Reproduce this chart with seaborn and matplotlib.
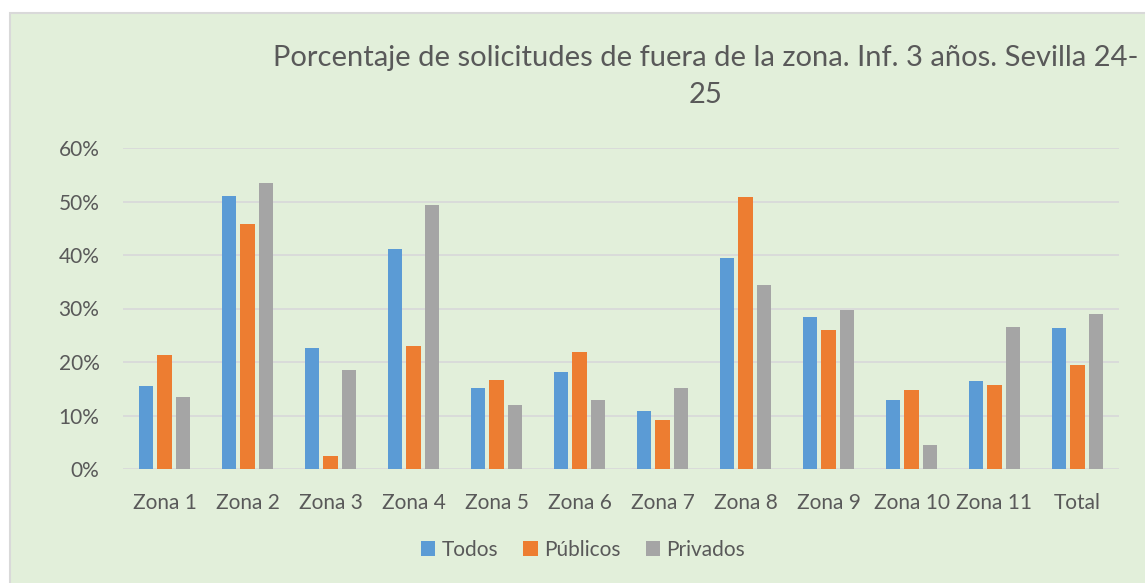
import matplotlib
matplotlib.use("Agg")
import matplotlib.pyplot as plt
import seaborn as sns
import pandas as pd
from matplotlib.patches import Rectangle, Patch
from matplotlib.ticker import PercentFormatter

categories = ["Zona 1", "Zona 2", "Zona 3", "Zona 4", "Zona 5", "Zona 6",
              "Zona 7", "Zona 8", "Zona 9", "Zona 10", "Zona 11", "Total"]
todos =    [15.5, 51.1, 22.6, 41.1, 15.1, 18.2, 10.8, 39.4, 28.5, 12.9, 16.5, 26.4]
publicos = [21.3, 45.8, 2.4, 22.9, 16.7, 21.8, 9.2, 50.8, 25.9, 14.8, 15.7, 19.4]
privados = [13.4, 53.4, 18.5, 49.3, 12.0, 12.9, 15.2, 34.4, 29.7, 4.5, 26.6, 29.0]
series_names = ["Todos", "Públicos", "Privados"]
colors = ["#5B9BD5", "#ED7D31", "#A5A5A5"]
title_line1 = "Porcentaje de solicitudes de fuera de la zona. Inf. 3 años. Sevilla 24-"
title_line2 = "25"
yticks = [0, 10, 20, 30, 40, 50, 60]

rows = []
for name, vals in zip(series_names, [todos, publicos, privados]):
    for c, v in zip(categories, vals):
        rows.append({"Zona": c, "Serie": name, "Valor": v})
df = pd.DataFrame(rows)

sns.set_theme(style="white")
plt.rcParams["font.family"] = ["Lato", "DejaVu Sans"]
text_color = "#595959"

W, H = 1145, 583
fig = plt.figure(figsize=(W / 100, H / 100), dpi=100, facecolor="white")
fig.patches.append(Rectangle((10 / W, -0.01), 1.02, 1 - 13 / H + 0.01,
                             transform=fig.transFigure, facecolor="#E2EFDA",
                             edgecolor="#D9D9D9", linewidth=1.5, zorder=-5))

ax = fig.add_axes([123 / W, 1 - 469 / H, (1119 - 123) / W, (469 - 148) / H])
ax.set_facecolor("none")
ax.set_zorder(2)
sns.barplot(data=df, x="Zona", y="Valor", hue="Serie", order=categories,
            hue_order=series_names, palette=colors, width=0.67, gap=0.24,
            ax=ax, legend=False, saturation=1, edgecolor="none")
ax.set_ylim(0, 60)
ax.set_xlim(-0.5, len(categories) - 0.5)
ax.set_yticks(yticks)
ax.yaxis.set_major_formatter(PercentFormatter(decimals=0))
ax.grid(axis="y", color="#D9D9D9", linewidth=1.3)
ax.set_axisbelow(True)
for s in ax.spines.values():
    s.set_visible(False)
ax.set_xlabel("")
ax.set_ylabel("")
ax.tick_params(axis="both", length=0, labelsize=15, colors=text_color)
ax.tick_params(axis="y", pad=17)
ax.tick_params(axis="x", pad=17)

fig.text(706 / W, 1 - 58 / H, title_line1, ha="center", va="center",
         fontsize=21, color=text_color)
fig.text(706 / W, 1 - 95 / H, title_line2, ha="center", va="center",
         fontsize=21, color=text_color)

handles = [Patch(facecolor=c, edgecolor="none", label=n) for c, n in zip(colors, series_names)]
leg = fig.legend(handles=handles, loc="center", bbox_to_anchor=(583 / W, 1 - 550 / H),
                 ncol=3, frameon=False, fontsize=15, handlelength=0.7,
                 handleheight=0.7, handletextpad=0.3, columnspacing=1.2)
for t in leg.get_texts():
    t.set_color(text_color)

fig.savefig("out.png", dpi=100, facecolor="white")
